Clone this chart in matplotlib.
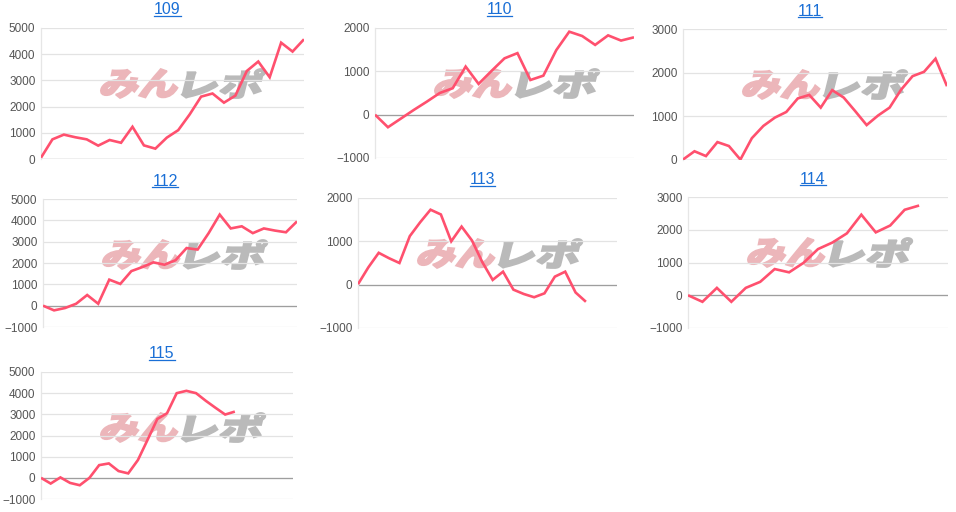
import numpy as np
import matplotlib
matplotlib.use("Agg")
import matplotlib.pyplot as plt
from matplotlib.textpath import TextPath
from matplotlib.patches import PathPatch
from matplotlib.font_manager import FontProperties
from matplotlib.transforms import Affine2D, IdentityTransform

plt.rcParams['font.family'] = ['Liberation Sans', 'DejaVu Sans']

W, H = 956, 512

# chart names and cumulative values per slot
names = ['109', '110', '111', '112', '113', '114', '115']

v109 = [50, 750, 930, 830, 750, 510, 725, 620, 1230, 520, 395, 815, 1100, 1700,
        2380, 2500, 2150, 2420, 3360, 3720, 3120, 4440, 4100, 4570]
v110 = [0, -290, -90, 110, 300, 500, 610, 1110, 710, 1010, 1300, 1420, 800, 900,
        1490, 1915, 1815, 1610, 1830, 1710, 1785]
v111 = [10, 200, 90, 410, 320, 10, 500, 780, 970, 1100, 1410, 1490, 1200, 1600,
        1430, 1120, 800, 1020, 1200, 1610, 1920, 2020, 2320, 1690]
v112 = [0, -220, -110, 90, 500, 90, 1220, 1020, 1620, 1810, 2030, 1920, 2130, 2700,
        2630, 3400, 4270, 3620, 3720, 3400, 3620, 3520, 3440, 3950]
v113 = [10, 400, 735, 610, 500, 1120, 1440, 1730, 1620, 1000, 1340, 1020, 520, 110,
        300, -115, -215, -290, -200, 185, 300, -180, -395]
v114 = [0, -200, 225, -200, 225, 410, 800, 700, 990, 1410, 1610, 1890, 2460, 1920,
        2130, 2610, 2740]
v115 = [0, -270, 20, -240, -350, 0, 600, 680, 320, 210, 840, 1800, 2780, 3050, 4000,
        4110, 4000, 3640, 3310, 2990, 3130]

series = [v109, v110, v111, v112, v113, v114, v115]
slots = [24, 21, 24, 24, 26, 19, 27]
y_ranges = [(0, 5000), (-1000, 2000), (0, 3000), (-1000, 5000),
            (-1000, 2000), (-1000, 3000), (-1000, 5000)]

# axes boxes in pixels: left, top, right, bottom
boxes = [(41, 28, 304, 159), (375, 28, 634, 158), (683, 29, 947, 160),
         (43, 199, 297, 327), (358, 198, 617, 328), (688, 197, 948, 328),
         (41, 372, 293, 499)]

line_color = '#ff506e'
title_color = '#1a6fd6'

fig = plt.figure(figsize=(W / 100, H / 100), dpi=100)
fig.patch.set_facecolor('white')

wm_font = FontProperties(family='Noto Sans CJK JP', weight='heavy')


def watermark(x0, top):
    # "みんレポ" logo drawn as skewed text paths, pixel coords from the top-left
    parts = [("みん", (236, 182, 186), 0, 76), ("レポ", (186, 186, 186), 82, 160)]
    for txt, col, px0, px1 in parts:
        tp = TextPath((0, 0), txt, size=40, prop=wm_font)
        ext = tp.get_extents()
        sx = (px1 - px0) / ext.width
        sy = 29 / ext.height
        tr = (Affine2D().translate(-ext.x0, -ext.y0).scale(sx, sy)
              .skew_deg(14, 0)
              .translate(x0 + px0 - 4, H - (top + 29)))
        c = np.array(col) / 255
        patch = PathPatch(tp, transform=tr + IdentityTransform(),
                          facecolor=c, edgecolor=c, lw=1.3, zorder=-1)
        fig.patches.append(patch)


renderer = fig.canvas.get_renderer()

for name, vals, n, (ylo, yhi), (x0, y0, x1, y1) in zip(names, series, slots, y_ranges, boxes):
    ax = fig.add_axes([x0 / W, 1 - y1 / H, (x1 - x0) / W, (y1 - y0) / H])
    ax.set_facecolor('none')
    ax.plot(range(len(vals)), vals, color=line_color, lw=1.9, zorder=3,
            solid_joinstyle='miter', solid_capstyle='butt')
    ax.set_xlim(0, n - 1)
    ax.set_ylim(ylo, yhi)
    ax.set_yticks(np.arange(ylo, yhi + 1, 1000))
    ax.set_xticks([])
    ax.grid(axis='y', color='#e3e3e3', lw=0.9)
    ax.set_axisbelow(True)
    ax.axhline(0, color='#9e9e9e', lw=0.9, zorder=2)
    for s in ['top', 'right', 'bottom']:
        ax.spines[s].set_visible(False)
    ax.spines['left'].set_color('#e6e6e6')
    ax.spines['left'].set_linewidth(0.9)
    ax.tick_params(axis='y', length=0, pad=4, labelsize=8.5, labelcolor='#555555')

    # title link, centered over the chart with underline
    cx = ((x0 + x1) / 2 - 5) / W
    ty = 1 - (y0 - 18) / H
    t = fig.text(cx, ty, name, ha='center', va='center', fontsize=11.5,
                 color=title_color)
    bb = t.get_window_extent(renderer)
    uy = 1 - (y0 - 12.5) / H
    fig.add_artist(plt.Line2D([bb.x0 / W, bb.x1 / W], [uy, uy], color=title_color,
                              lw=0.9, transform=fig.transFigure))

    watermark(x0 + 62, y0 + 41)

fig.savefig('out.png', dpi=100, facecolor='white')
